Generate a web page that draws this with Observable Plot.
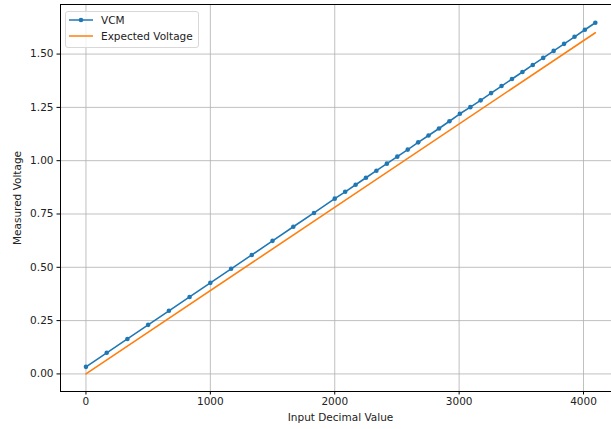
<!DOCTYPE html>
<html><head><meta charset="utf-8">
<script src="https://cdn.jsdelivr.net/npm/d3@7"></script>
<script src="https://cdn.jsdelivr.net/npm/@observablehq/plot@0.6"></script>
<style>
html,body{margin:0;padding:0;background:#fff;}
#wrap{position:relative;width:611px;height:429px;overflow:hidden;font-family:"DejaVu Sans",sans-serif;}
#legend{position:absolute;left:65px;top:11px;width:134px;height:37px;border:1px solid #d8d8d8;border-radius:3px;background:rgba(255,255,255,0.8);box-sizing:border-box;}
#legend .row{position:absolute;left:0;height:16px;display:flex;align-items:center;font-size:10.5px;color:#222;}
#legend svg{margin-left:3px;margin-right:8px;}
</style></head><body><div id="wrap"><div id="legend"></div></div>
<script>
const inputCodes = [0,167,333,500,667,833,1000,1167,1333,1500,1667,1833,2000,2084,2168,2251,2335,2419,2503,2587,2671,2754,2838,2922,3006,3090,3173,3257,3341,3425,3509,3592,3676,3760,3844,3928,4011,4095];
const vcmVolts = [0.033,0.099,0.164,0.230,0.296,0.361,0.427,0.493,0.558,0.624,0.690,0.755,0.822,0.854,0.887,0.920,0.953,0.986,1.019,1.052,1.086,1.118,1.151,1.185,1.220,1.251,1.283,1.317,1.350,1.383,1.416,1.449,1.482,1.515,1.548,1.581,1.614,1.647];
const expectedCodes = [0,4095];
const expectedVolts = [0,1.6];
const seriesNames = ["VCM","Expected Voltage"];
const seriesColors = ["#1f77b4","#ff7f0e"];
const xTicks = [0,1000,2000,3000,4000];
const yTicks = [0,0.25,0.5,0.75,1.0,1.25,1.5];
const xTitle = "Input Decimal Value";
const yTitle = "Measured Voltage";

const vcm = inputCodes.map((x,i)=>({x, y: vcmVolts[i]}));
const expected = expectedCodes.map((x,i)=>({x, y: expectedVolts[i]}));

const chart = Plot.plot({
  width: 611, height: 429,
  marginLeft: 60, marginRight: 0, marginTop: 4, marginBottom: 38,
  style: {fontFamily: "DejaVu Sans, sans-serif", fontSize: "10.5px", color: "#222", background: "#fff"},
  x: {domain: [-204.75, 4225]},
  y: {domain: [-0.0825, 1.7325]},
  marks: [
    Plot.gridX(xTicks, {stroke: "#b0b0b0", strokeOpacity: 1, strokeWidth: 0.8}),
    Plot.gridY(yTicks, {stroke: "#b0b0b0", strokeOpacity: 1, strokeWidth: 0.8}),
    Plot.line(expected, {x: "x", y: "y", stroke: seriesColors[1], strokeWidth: 1.6}),
    Plot.line(vcm, {x: "x", y: "y", stroke: seriesColors[0], strokeWidth: 1.6}),
    Plot.dot(vcm, {x: "x", y: "y", fill: seriesColors[0], r: 2.3, stroke: "none"}),
    Plot.axisX(xTicks, {tickSize: 3.5, tickPadding: 3, tickFormat: d3.format("d"), label: null, fontSize: 10.5, stroke: "#000"}),
    Plot.axisY(yTicks, {tickSize: 3.5, tickPadding: 3.5, tickFormat: d3.format(".2f"), label: null, fontSize: 10.5, stroke: "#000"}),
    Plot.frame({anchor: "left", stroke: "#000", strokeWidth: 1}),
    Plot.frame({anchor: "top", stroke: "#000", strokeWidth: 1}),
    Plot.frame({anchor: "bottom", stroke: "#000", strokeWidth: 1}),
    Plot.text([xTitle], {frameAnchor: "bottom", dy: 26, dx: 4.5, lineAnchor: "middle", fontSize: 10.5, fill: "#222"}),
    Plot.text([yTitle], {frameAnchor: "left", dx: -43, rotate: -90, lineAnchor: "middle", textAnchor: "middle", fontSize: 10.5, fill: "#222"})
  ]
});
const wrap = document.getElementById("wrap");
wrap.insertBefore(chart, wrap.firstChild);

const legend = document.getElementById("legend");
seriesNames.forEach((name, i) => {
  const row = document.createElement("div");
  row.className = "row";
  row.style.top = (i === 0 ? 0 : 15.5) + "px";
  const svg = d3.create("svg").attr("width", 24).attr("height", 8);
  svg.append("line").attr("x1", 0).attr("x2", 24).attr("y1", 4).attr("y2", 4)
    .attr("stroke", seriesColors[i]).attr("stroke-width", 1.5);
  if (i === 0) svg.append("circle").attr("cx", 12).attr("cy", 4).attr("r", 2.3).attr("fill", seriesColors[i]);
  row.appendChild(svg.node());
  const span = document.createElement("span");
  span.textContent = name;
  row.appendChild(span);
  legend.appendChild(row);
});
</script>
</body></html>
